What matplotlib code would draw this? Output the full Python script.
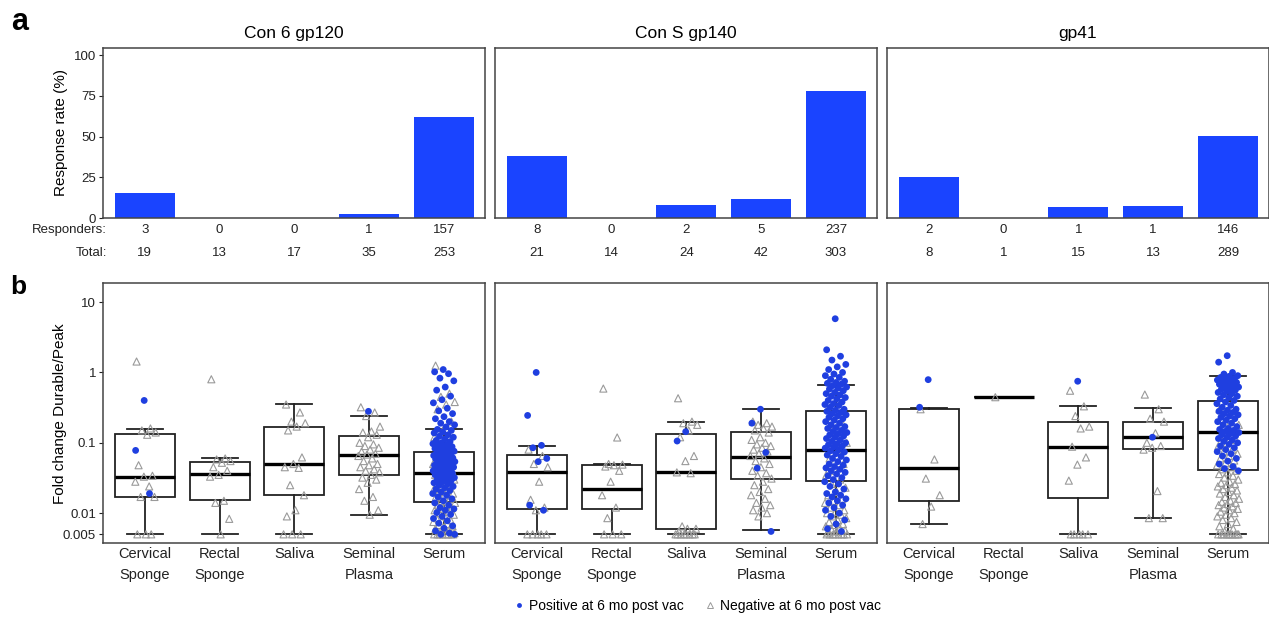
import numpy as np
import matplotlib.pyplot as plt
from matplotlib.lines import Line2D
from matplotlib.ticker import FixedLocator, NullLocator

plt.rcParams['font.family'] = ['Liberation Sans', 'DejaVu Sans']

# Data
antigens = ["Con 6 gp120", "Con S gp140", "gp41"]
sites = ["Cervical\nSponge", "Rectal\nSponge", "Saliva", "Seminal\nPlasma", "Serum"]

rate_con6 = [15.8, 0, 0, 2.9, 62.1]
rate_cons = [38.1, 0, 8.3, 11.9, 78.2]
rate_gp41 = [25.0, 0, 6.7, 7.7, 50.5]

resp_con6 = [3, 0, 0, 1, 157]
resp_cons = [8, 0, 2, 5, 237]
resp_gp41 = [2, 0, 1, 1, 146]
total_con6 = [19, 13, 17, 35, 253]
total_cons = [21, 14, 24, 42, 303]
total_gp41 = [8, 1, 15, 13, 289]

# box stats: whisker low, q1, median, q3, whisker high
box_con6 = [[0.005, 0.0168, 0.0325, 0.133, 0.159],
            [0.005, 0.0155, 0.0358, 0.053, 0.061],
            [0.005, 0.018, 0.0506, 0.17, 0.355],
            [0.0093, 0.035, 0.067, 0.127, 0.238],
            [0.005, 0.0145, 0.037, 0.0747, 0.157]]
box_cons = [[0.005, 0.0114, 0.039, 0.067, 0.09],
            [0.005, 0.0114, 0.0223, 0.049, 0.05],
            [0.005, 0.006, 0.0387, 0.133, 0.198],
            [0.0058, 0.0308, 0.063, 0.144, 0.304],
            [0.005, 0.0282, 0.079, 0.285, 0.67]]
box_gp41 = [[0.007, 0.0149, 0.044, 0.304, 0.31],
            [0.445, 0.445, 0.445, 0.445, 0.445],
            [0.005, 0.0166, 0.088, 0.198, 0.33],
            [0.0084, 0.0815, 0.119, 0.198, 0.314],
            [0.005, 0.0407, 0.1415, 0.39, 0.9]]

# fold change points (positive / negative at 6 mo)
pos_con6 = [
    [0.40, 0.078, 0.019],
    [],
    [],
    [0.28],
    [1.1, 1.02, 0.96, 0.83, 0.76, 0.62, 0.56, 0.46, 0.41, 0.37, 0.31, 0.285, 0.26, 0.235,
     0.22, 0.2, 0.19, 0.18, 0.168, 0.155, 0.15, 0.142, 0.138, 0.13, 0.124, 0.12, 0.113,
     0.108, 0.104, 0.1, 0.097, 0.094, 0.091, 0.088, 0.086, 0.083, 0.081, 0.079, 0.076,
     0.074, 0.072, 0.07, 0.069, 0.066, 0.065, 0.063, 0.061, 0.06, 0.059, 0.057, 0.056,
     0.054, 0.053, 0.051, 0.05, 0.049, 0.048, 0.047, 0.046, 0.045, 0.044, 0.043, 0.042,
     0.041, 0.04, 0.039, 0.038, 0.037, 0.036, 0.035, 0.034, 0.033, 0.032, 0.031, 0.03,
     0.029, 0.028, 0.027, 0.026, 0.025, 0.024, 0.023, 0.022, 0.021, 0.02, 0.019, 0.018,
     0.017, 0.016, 0.015, 0.014, 0.013, 0.012, 0.0115, 0.011, 0.0102, 0.0096, 0.009,
     0.0084, 0.0078, 0.0072, 0.0066, 0.0061, 0.0056, 0.0052, 0.005, 0.005]]
neg_con6 = [
    [1.43, 0.16, 0.15, 0.14, 0.13, 0.048, 0.034, 0.033, 0.028, 0.024, 0.017, 0.017,
     0.005, 0.005, 0.005],
    [0.8, 0.06, 0.058, 0.055, 0.052, 0.045, 0.04, 0.035, 0.033, 0.015, 0.014, 0.0083, 0.005],
    [0.35, 0.27, 0.2, 0.19, 0.17, 0.15, 0.062, 0.05, 0.045, 0.044, 0.025, 0.018, 0.011,
     0.009, 0.005, 0.005, 0.005],
    [0.32, 0.27, 0.24, 0.17, 0.145, 0.14, 0.13, 0.12, 0.1, 0.095, 0.09, 0.085, 0.08,
     0.075, 0.07, 0.068, 0.065, 0.06, 0.055, 0.05, 0.048, 0.045, 0.042, 0.04, 0.038,
     0.035, 0.032, 0.03, 0.027, 0.022, 0.017, 0.015, 0.011, 0.0095],
    [1.25, 0.5, 0.45, 0.38, 0.35, 0.3, 0.2, 0.15, 0.12, 0.1, 0.09, 0.08, 0.07, 0.065,
     0.06, 0.055, 0.05, 0.047, 0.044, 0.04, 0.037, 0.035, 0.033, 0.031, 0.03, 0.028,
     0.026, 0.025, 0.024, 0.022, 0.021, 0.02, 0.019, 0.018, 0.017, 0.016, 0.015, 0.014,
     0.0135, 0.013, 0.012, 0.0115, 0.011, 0.0105, 0.01, 0.0095, 0.009, 0.0085, 0.008,
     0.0078, 0.0075, 0.007, 0.0068, 0.0065, 0.0062, 0.006, 0.0058, 0.0055, 0.0052,
     0.005, 0.005, 0.005, 0.005, 0.005, 0.005, 0.005, 0.005]]

pos_cons = [
    [1.0, 0.245, 0.092, 0.085, 0.06, 0.054, 0.013, 0.011],
    [],
    [0.144, 0.106],
    [0.3, 0.19, 0.073, 0.0436, 0.0055],
    [5.8, 2.1, 1.7, 1.5, 1.3, 1.2, 1.1, 1.0, 0.95, 0.9, 0.85, 0.8, 0.75, 0.72, 0.7,
     0.68, 0.65, 0.62, 0.6, 0.58, 0.55, 0.52, 0.5, 0.48, 0.46, 0.44, 0.42, 0.4, 0.38,
     0.36, 0.35, 0.34, 0.32, 0.3, 0.29, 0.28, 0.27, 0.26, 0.25, 0.24, 0.23, 0.22, 0.21,
     0.2, 0.19, 0.18, 0.17, 0.165, 0.16, 0.15, 0.145, 0.14, 0.135, 0.13, 0.125, 0.12,
     0.115, 0.11, 0.105, 0.1, 0.097, 0.094, 0.09, 0.087, 0.084, 0.08, 0.077, 0.074,
     0.07, 0.067, 0.064, 0.06, 0.057, 0.054, 0.05, 0.048, 0.046, 0.044, 0.042, 0.04,
     0.038, 0.036, 0.034, 0.032, 0.03, 0.028, 0.026, 0.024, 0.022, 0.02, 0.019, 0.018,
     0.017, 0.016, 0.015, 0.014, 0.013, 0.012, 0.011, 0.01, 0.009, 0.008, 0.007,
     0.006, 0.0055]]
neg_cons = [
    [0.08, 0.065, 0.05, 0.045, 0.028, 0.0155, 0.012, 0.011, 0.005, 0.005, 0.005, 0.005, 0.005],
    [0.59, 0.119, 0.05, 0.049, 0.048, 0.046, 0.04, 0.028, 0.018, 0.012, 0.0085, 0.005,
     0.005, 0.005],
    [0.43, 0.2, 0.19, 0.18, 0.15, 0.12, 0.065, 0.055, 0.038, 0.037, 0.0065, 0.006, 0.006,
     0.0055, 0.005, 0.005, 0.005, 0.005, 0.005, 0.005, 0.005, 0.005],
    [0.2, 0.19, 0.18, 0.17, 0.16, 0.15, 0.14, 0.12, 0.11, 0.1, 0.095, 0.09, 0.085, 0.08,
     0.075, 0.07, 0.065, 0.06, 0.055, 0.05, 0.045, 0.04, 0.037, 0.034, 0.031, 0.028,
     0.025, 0.022, 0.02, 0.018, 0.016, 0.014, 0.013, 0.012, 0.011, 0.01, 0.009],
    [0.3, 0.2, 0.15, 0.1, 0.08, 0.06, 0.05, 0.04, 0.035, 0.03, 0.026, 0.023, 0.02, 0.018,
     0.016, 0.015, 0.014, 0.013, 0.012, 0.011, 0.0105, 0.01, 0.0095, 0.009, 0.0085,
     0.008, 0.0075, 0.007, 0.0068, 0.0065, 0.0062, 0.006, 0.0057, 0.0055, 0.0053,
     0.005, 0.005, 0.005, 0.005, 0.005, 0.005, 0.005, 0.005]]

pos_gp41 = [
    [0.79, 0.32],
    [],
    [0.75],
    [0.12],
    [1.73, 1.4, 1.0, 0.95, 0.9, 0.88, 0.85, 0.82, 0.8, 0.78, 0.76, 0.74, 0.72, 0.7, 0.68,
     0.66, 0.64, 0.62, 0.6, 0.58, 0.56, 0.54, 0.52, 0.5, 0.48, 0.46, 0.44, 0.42, 0.4,
     0.38, 0.36, 0.34, 0.32, 0.3, 0.29, 0.28, 0.27, 0.26, 0.25, 0.24, 0.23, 0.22, 0.21,
     0.2, 0.19, 0.18, 0.17, 0.16, 0.155, 0.15, 0.145, 0.14, 0.135, 0.13, 0.125, 0.12,
     0.115, 0.11, 0.105, 0.1, 0.095, 0.09, 0.085, 0.08, 0.075, 0.07, 0.065, 0.06, 0.055,
     0.05, 0.046, 0.043, 0.04]]
neg_gp41 = [
    [0.3, 0.058, 0.031, 0.018, 0.0124, 0.007],
    [0.445],
    [0.55, 0.33, 0.24, 0.17, 0.16, 0.088, 0.062, 0.049, 0.029, 0.005, 0.005, 0.005,
     0.005, 0.005],
    [0.485, 0.3, 0.22, 0.2, 0.137, 0.1, 0.09, 0.085, 0.08, 0.0206, 0.0085, 0.0085],
    [0.3, 0.25, 0.2, 0.18, 0.15, 0.13, 0.11, 0.1, 0.09, 0.08, 0.075, 0.07, 0.065, 0.06,
     0.056, 0.052, 0.048, 0.045, 0.042, 0.04, 0.038, 0.036, 0.034, 0.032, 0.03, 0.028,
     0.027, 0.026, 0.025, 0.024, 0.023, 0.022, 0.021, 0.02, 0.019, 0.018, 0.017, 0.016,
     0.015, 0.0145, 0.014, 0.0135, 0.013, 0.0125, 0.012, 0.0115, 0.011, 0.0105, 0.01,
     0.0095, 0.009, 0.0085, 0.008, 0.0075, 0.007, 0.0065, 0.006, 0.0055, 0.005, 0.005,
     0.005, 0.005, 0.005, 0.005, 0.005, 0.005, 0.005, 0.005]]

rates = [rate_con6, rate_cons, rate_gp41]
resps = [resp_con6, resp_cons, resp_gp41]
totals = [total_con6, total_cons, total_gp41]
boxes = [box_con6, box_cons, box_gp41]
pos_pts = [pos_con6, pos_cons, pos_gp41]
neg_pts = [neg_con6, neg_cons, neg_gp41]

BAR_BLUE = '#1a44ff'
PT_BLUE = '#1f3fe0'
TRI_GRAY = '#9a9a9a'
SPINE = '#444444'

W, H = 1269, 621
fig = plt.figure(figsize=(W / 100, H / 100), dpi=100)

lefts = [103, 495, 887]
width = 382
xpos = np.arange(5)


def jitter(n, phase, w=0.15):
    # deterministic spread for point positions
    i = np.arange(n)
    return ((i * 0.618034 + phase) % 1 - 0.5) * 2 * w


for k in range(3):
    # --- panel a: response rate bars
    axa = fig.add_axes([lefts[k] / W, 1 - 218.3 / H, width / W, 170.6 / H])
    axa.bar(xpos, rates[k], width=0.8, color=BAR_BLUE)
    axa.set_xlim(-0.56, 4.55)
    axa.set_ylim(0, 104.5)
    axa.set_xticks([])
    axa.set_title(antigens[k], fontsize=12.5, pad=7)
    for s in axa.spines.values():
        s.set_color(SPINE)
        s.set_linewidth(1.1)
    for i in range(5):
        axa.text(i, -0.07, str(resps[k][i]), transform=axa.get_xaxis_transform(),
                 ha='center', va='center', fontsize=9.5, color='#222222')
        axa.text(i, -0.205, str(totals[k][i]), transform=axa.get_xaxis_transform(),
                 ha='center', va='center', fontsize=9.5, color='#222222')
    if k == 0:
        axa.set_yticks([0, 25, 50, 75, 100])
        axa.tick_params(axis='y', length=3, labelsize=9.5, colors='#222222', pad=2)
        axa.set_ylabel("Response rate (%)", fontsize=11, labelpad=4)
    else:
        axa.set_yticks([])

    # --- panel b: fold change boxes and points
    axb = fig.add_axes([lefts[k] / W, 1 - 543.3 / H, width / W, 260 / H])
    axb.set_yscale('log')
    stats = []
    for i in range(5):
        lo, q1, med, q3, hi = boxes[k][i]
        stats.append(dict(whislo=lo, q1=q1, med=med, q3=q3, whishi=hi, fliers=[]))
    axb.bxp(stats, positions=xpos, widths=0.8, capwidths=0.48, patch_artist=True,
            showfliers=False,
            boxprops=dict(facecolor='white', edgecolor='#222222', linewidth=1.3),
            whiskerprops=dict(color='#222222', linewidth=1.3),
            capprops=dict(color='#222222', linewidth=1.3),
            medianprops=dict(color='black', linewidth=2.4))
    for i in range(5):
        neg = neg_pts[k][i]
        pos = pos_pts[k][i]
        if len(neg):
            axb.scatter(i + jitter(len(neg), 0.13), neg, marker='^', s=26,
                        facecolors='none', edgecolors=TRI_GRAY, linewidths=0.8, zorder=3)
        if len(pos):
            axb.scatter(i + jitter(len(pos), 0.47), pos, marker='o', s=24,
                        color=PT_BLUE, edgecolors='none', zorder=4)
    axb.set_xlim(-0.56, 4.55)
    axb.set_ylim(0.00373, 18.5)
    axb.set_xticks(xpos)
    axb.set_xticklabels(sites, fontsize=10.5, color='#222222', linespacing=1.55)
    axb.tick_params(axis='x', length=0, pad=3)
    axb.yaxis.set_minor_locator(NullLocator())
    for s in axb.spines.values():
        s.set_color(SPINE)
        s.set_linewidth(1.1)
    if k == 0:
        axb.yaxis.set_major_locator(FixedLocator([0.005, 0.01, 0.1, 1, 10]))
        axb.set_yticklabels(['0.005', '0.01', '0.1', '1', '10'])
        axb.tick_params(axis='y', length=3, labelsize=9.5, colors='#222222', pad=2)
        axb.set_ylabel("Fold change Durable/Peak", fontsize=11, labelpad=-3)
    else:
        axb.set_yticks([])

fig.text(107 / W, 1 - 230 / H, "Responders:", ha='right', va='center', fontsize=9.5,
         color='#222222')
fig.text(107 / W, 1 - 253 / H, "Total:", ha='right', va='center', fontsize=9.5,
         color='#222222')

fig.text(20 / W, 1 - 22 / H, "a", ha='center', va='center', fontsize=22, fontweight='bold')
fig.text(18 / W, 1 - 287 / H, "b", ha='center', va='center', fontsize=19, fontweight='bold')

handles = [
    Line2D([], [], marker='o', linestyle='none', color=PT_BLUE, markersize=3.5,
           markeredgewidth=0),
    Line2D([], [], marker='^', linestyle='none', markerfacecolor='none',
           markeredgecolor=TRI_GRAY, markersize=4, markeredgewidth=0.7),
]
fig.legend(handles, ["Positive at 6 mo post vac", "Negative at 6 mo post vac"],
           loc='center', bbox_to_anchor=(697 / W, 1 - 606 / H), ncol=2, frameon=False,
           fontsize=10, handlelength=0.8, handletextpad=0.3, columnspacing=1.5)

fig.savefig('out.png', dpi=100)
